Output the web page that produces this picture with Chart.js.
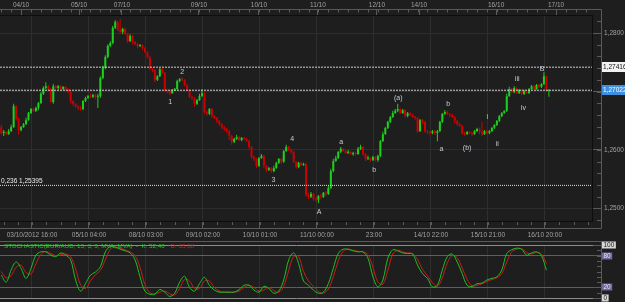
<!DOCTYPE html>
<html>
<head>
<meta charset="utf-8">
<title>EUR/AUD H1 - Elliott count</title>
<script src="https://cdn.jsdelivr.net/npm/chart.js@4/dist/chart.umd.min.js"></script>
<style>
  html, body { margin: 0; padding: 0; background: #1e1e1e; }
  #wrap { position: relative; width: 625px; height: 302px; overflow: hidden; }
  #priceChart { position: absolute; left: 0; top: 0; }
  #stochChart { position: absolute; left: 0; top: 241px; }
</style>
</head>
<body>
<div id="wrap">
  <canvas id="priceChart" width="625" height="241"></canvas>
  <canvas id="stochChart" width="625" height="61"></canvas>
</div>
<script>
// EUR/AUD hourly candles, bar 0 = first visible bar
const firstOpen = 1.2639;
const closes = [
  1.2629, 1.2631, 1.2627, 1.2632, 1.2639, 1.2675, 1.2653, 1.2634, 1.2639, 1.2644,
  1.2651, 1.2663, 1.2670, 1.2667, 1.2672, 1.2680, 1.2696, 1.2706, 1.2709, 1.2703,
  1.2682, 1.2709, 1.2706, 1.2709, 1.2704, 1.2708, 1.2704, 1.2699, 1.2684, 1.2679,
  1.2675, 1.2672, 1.2670, 1.2684, 1.2689, 1.2692, 1.2691, 1.2694, 1.2691, 1.2692,
  1.2723, 1.2740, 1.2759, 1.2778, 1.2783, 1.2809, 1.2819, 1.2805, 1.2802, 1.2807,
  1.2798, 1.2786, 1.2795, 1.2785, 1.2781, 1.2778, 1.2779, 1.2774, 1.2767, 1.2759,
  1.2738, 1.2737, 1.2720, 1.2726, 1.2738, 1.2732, 1.2703, 1.2701, 1.2697, 1.2703,
  1.2704, 1.2718, 1.2721, 1.2720, 1.2711, 1.2703, 1.2691, 1.2689, 1.2679, 1.2685,
  1.2692, 1.2697, 1.2665, 1.2662, 1.2670, 1.2658, 1.2655, 1.2650, 1.2644, 1.2639,
  1.2636, 1.2632, 1.2624, 1.2614, 1.2619, 1.2622, 1.2617, 1.2621, 1.2619, 1.2615,
  1.2605, 1.2588, 1.2585, 1.2573, 1.2586, 1.2590, 1.2573, 1.2566, 1.2569, 1.2564,
  1.2569, 1.2578, 1.2585, 1.2580, 1.2598, 1.2605, 1.2600, 1.2597, 1.2580, 1.2571,
  1.2578, 1.2574, 1.2576, 1.2523, 1.2520, 1.2525, 1.2516, 1.2515, 1.2521, 1.2520,
  1.2527, 1.2525, 1.2535, 1.2564, 1.2581, 1.2586, 1.2597, 1.2602, 1.2598, 1.2595,
  1.2597, 1.2593, 1.2595, 1.2593, 1.2602, 1.2605, 1.2593, 1.2585, 1.2586, 1.2583,
  1.2588, 1.2583, 1.2590, 1.2615, 1.2627, 1.2638, 1.2648, 1.2656, 1.2663, 1.2667,
  1.2670, 1.2663, 1.2668, 1.2658, 1.2663, 1.2660, 1.2656, 1.2655, 1.2632, 1.2651,
  1.2648, 1.2632, 1.2631, 1.2629, 1.2632, 1.2629, 1.2632, 1.2648, 1.2662, 1.2665,
  1.2662, 1.2660, 1.2656, 1.2650, 1.2644, 1.2641, 1.2629, 1.2627, 1.2631, 1.2629,
  1.2627, 1.2632, 1.2636, 1.2631, 1.2627, 1.2632, 1.2629, 1.2632, 1.2638, 1.2643,
  1.2650, 1.2658, 1.2663, 1.2667, 1.2692, 1.2704, 1.2699, 1.2706, 1.2697, 1.2703,
  1.2696, 1.2701, 1.2697, 1.2704, 1.2709, 1.2704, 1.2711, 1.2708, 1.2713, 1.2726,
  1.2701, 1.2702
];
const highs = [
  1.2643, 1.2634, 1.2632, 1.2636, 1.2643, 1.2679, 1.2677, 1.2655, 1.2641, 1.2646,
  1.2655, 1.2665, 1.2672, 1.2672, 1.2674, 1.2682, 1.2699, 1.2709, 1.2716, 1.2711,
  1.2706, 1.2713, 1.2711, 1.2711, 1.2711, 1.2709, 1.2709, 1.2706, 1.2701, 1.2685,
  1.2680, 1.2677, 1.2675, 1.2685, 1.2691, 1.2694, 1.2696, 1.2696, 1.2696, 1.2696,
  1.2726, 1.2744, 1.2762, 1.2781, 1.2786, 1.2812, 1.2822, 1.2821, 1.2824, 1.2809,
  1.2809, 1.2800, 1.2798, 1.2797, 1.2786, 1.2783, 1.2781, 1.2781, 1.2776, 1.2769,
  1.2761, 1.2740, 1.2738, 1.2728, 1.2740, 1.2740, 1.2733, 1.2704, 1.2703, 1.2704,
  1.2706, 1.2720, 1.2723, 1.2725, 1.2721, 1.2713, 1.2704, 1.2692, 1.2691, 1.2687,
  1.2696, 1.2704, 1.2699, 1.2668, 1.2672, 1.2672, 1.2660, 1.2656, 1.2651, 1.2646,
  1.2641, 1.2638, 1.2634, 1.2626, 1.2621, 1.2626, 1.2624, 1.2622, 1.2622, 1.2621,
  1.2617, 1.2607, 1.2590, 1.2586, 1.2588, 1.2593, 1.2592, 1.2574, 1.2571, 1.2571,
  1.2573, 1.2580, 1.2586, 1.2586, 1.2600, 1.2609, 1.2607, 1.2602, 1.2598, 1.2581,
  1.2580, 1.2580, 1.2578, 1.2578, 1.2527, 1.2528, 1.2527, 1.2520, 1.2523, 1.2525,
  1.2528, 1.2530, 1.2539, 1.2568, 1.2585, 1.2590, 1.2598, 1.2605, 1.2603, 1.2600,
  1.2600, 1.2598, 1.2597, 1.2597, 1.2605, 1.2609, 1.2607, 1.2595, 1.2590, 1.2588,
  1.2590, 1.2590, 1.2592, 1.2617, 1.2631, 1.2639, 1.2650, 1.2658, 1.2667, 1.2670,
  1.2679, 1.2672, 1.2670, 1.2670, 1.2665, 1.2665, 1.2662, 1.2658, 1.2656, 1.2653,
  1.2653, 1.2650, 1.2634, 1.2632, 1.2634, 1.2634, 1.2634, 1.2650, 1.2663, 1.2668,
  1.2667, 1.2663, 1.2662, 1.2658, 1.2651, 1.2646, 1.2643, 1.2631, 1.2632, 1.2632,
  1.2631, 1.2634, 1.2638, 1.2638, 1.2648, 1.2634, 1.2634, 1.2634, 1.2639, 1.2644,
  1.2651, 1.2660, 1.2665, 1.2668, 1.2696, 1.2708, 1.2706, 1.2709, 1.2708, 1.2704,
  1.2704, 1.2703, 1.2703, 1.2706, 1.2711, 1.2711, 1.2713, 1.2713, 1.2714, 1.2733,
  1.2728, 1.2704
];
const lows = [
  1.2626, 1.2624, 1.2626, 1.2626, 1.2631, 1.2638, 1.2650, 1.2626, 1.2632, 1.2638,
  1.2643, 1.2650, 1.2662, 1.2665, 1.2665, 1.2668, 1.2679, 1.2694, 1.2704, 1.2699,
  1.2680, 1.2679, 1.2704, 1.2703, 1.2703, 1.2703, 1.2701, 1.2697, 1.2680, 1.2675,
  1.2672, 1.2668, 1.2667, 1.2668, 1.2682, 1.2687, 1.2689, 1.2689, 1.2687, 1.2672,
  1.2689, 1.2721, 1.2738, 1.2757, 1.2776, 1.2781, 1.2807, 1.2803, 1.2800, 1.2798,
  1.2797, 1.2783, 1.2785, 1.2781, 1.2779, 1.2774, 1.2776, 1.2771, 1.2766, 1.2756,
  1.2737, 1.2733, 1.2716, 1.2718, 1.2725, 1.2730, 1.2699, 1.2697, 1.2694, 1.2696,
  1.2701, 1.2703, 1.2716, 1.2718, 1.2709, 1.2701, 1.2689, 1.2685, 1.2674, 1.2677,
  1.2684, 1.2691, 1.2662, 1.2658, 1.2660, 1.2655, 1.2653, 1.2646, 1.2641, 1.2636,
  1.2632, 1.2629, 1.2617, 1.2609, 1.2612, 1.2617, 1.2615, 1.2615, 1.2617, 1.2614,
  1.2602, 1.2585, 1.2581, 1.2569, 1.2571, 1.2585, 1.2569, 1.2562, 1.2564, 1.2561,
  1.2562, 1.2568, 1.2576, 1.2576, 1.2578, 1.2597, 1.2598, 1.2593, 1.2578, 1.2568,
  1.2569, 1.2573, 1.2573, 1.2520, 1.2516, 1.2518, 1.2513, 1.2511, 1.2509, 1.2516,
  1.2518, 1.2521, 1.2523, 1.2533, 1.2562, 1.2580, 1.2585, 1.2595, 1.2597, 1.2593,
  1.2593, 1.2592, 1.2590, 1.2590, 1.2592, 1.2600, 1.2590, 1.2581, 1.2583, 1.2580,
  1.2581, 1.2580, 1.2580, 1.2588, 1.2614, 1.2626, 1.2636, 1.2646, 1.2655, 1.2662,
  1.2665, 1.2662, 1.2662, 1.2655, 1.2656, 1.2658, 1.2655, 1.2651, 1.2629, 1.2631,
  1.2644, 1.2629, 1.2627, 1.2626, 1.2627, 1.2626, 1.2615, 1.2631, 1.2646, 1.2660,
  1.2660, 1.2656, 1.2655, 1.2646, 1.2641, 1.2639, 1.2626, 1.2624, 1.2626, 1.2627,
  1.2624, 1.2626, 1.2631, 1.2627, 1.2624, 1.2626, 1.2627, 1.2627, 1.2631, 1.2636,
  1.2641, 1.2648, 1.2656, 1.2662, 1.2665, 1.2691, 1.2697, 1.2697, 1.2696, 1.2696,
  1.2694, 1.2694, 1.2696, 1.2696, 1.2703, 1.2703, 1.2703, 1.2706, 1.2706, 1.2711,
  1.2699, 1.2691
];

// stochastic(13,3,3), one reading every 2 bars
const stochStep = 2;
const stochK = [
  43, 30, 53, 68, 56, 37, 56, 81, 87, 87, 81, 78, 85, 81, 72, 34, 13, 27, 43, 49,
  59, 87, 97, 96, 92, 89, 85, 72, 40, 13, 7, 7, 16, 11, 3, 9, 30, 41, 20, 13,
  27, 39, 24, 15, 11, 11, 11, 11, 16, 24, 24, 15, 11, 22, 18, 9, 13, 34, 72, 85,
  65, 32, 24, 15, 9, 11, 27, 56, 84, 92, 92, 89, 87, 87, 75, 40, 21, 34, 75, 91,
  89, 85, 84, 83, 62, 46, 37, 21, 24, 53, 78, 83, 68, 46, 24, 22, 27, 28, 34, 37,
  40, 53, 84, 91, 94, 92, 81, 85, 87, 80, 52.4
];
const stochD = [
  50, 38, 42, 58, 62, 48, 45, 65, 82, 88, 84, 80, 82, 83, 78, 55, 25, 18, 32, 44,
  52, 72, 92, 96, 94, 91, 87, 80, 58, 25, 10, 8, 11, 13, 8, 6, 18, 35, 32, 18,
  18, 32, 32, 20, 13, 11, 11, 11, 13, 20, 24, 20, 13, 15, 20, 14, 11, 22, 52, 78,
  78, 50, 32, 22, 12, 9, 17, 40, 70, 88, 92, 90, 88, 87, 82, 58, 30, 26, 52, 83,
  90, 87, 85, 84, 73, 54, 42, 29, 22, 38, 66, 80, 76, 57, 35, 23, 24, 27, 31, 35,
  38, 46, 68, 87, 92, 93, 86, 83, 86, 83, 65.38
];
const stochLevels = [0, 20, 80, 100];

// horizontal levels: 1,27416 high, 1,27022 last price, 0.236 retracement
const levels = [1.27416, 1.27022, 1.25395];
const priceTicks = [1.25, 1.26, 1.27, 1.28];

// time axis (positions in bar units)
const bottomTickPos = [12.4, 35.4, 58.4, 81.4, 104.4, 127.4, 150.4, 173.4, 196.4, 219.4];
const bottomTickLabels = ['03/10/2012 16:00', '05/10 04:00', '08/10 03:00', '09/10 02:00', '10/10 01:00',
  '11/10 00:00', '23:00', '14/10 22:00', '15/10 21:00', '16/10 20:00'];
const topTickPos = [8.0, 31.4, 48.7, 79.8, 104.0, 127.8, 151.6, 168.6, 199.7, 223.9];
const topTickLabels = ['04/10', '05/10', '07/10', '09/10', '10/10', '11/10', '12/10', '14/10', '16/10', '17/10'];

// Elliott wave count
const waveLabels = ['1', '2', '3', '4', 'A', 'a', 'b', '(a)', 'a', 'b', '(b)', 'i', 'ii', 'iii', 'iv', 'B'];
const waveBars = [68.2, 73, 109.8, 117.4, 128.3, 137.2, 150.5, 160.2, 177.6, 180.4, 188, 196.1, 200.2, 208.2, 210.7, 218.3];
const wavePrices = [1.2682, 1.2733, 1.2549, 1.2619, 1.2494, 1.2614, 1.2566, 1.2689, 1.2602, 1.2679, 1.2603, 1.2656, 1.2610, 1.2721, 1.2672, 1.2738];

const X_MIN = -0.5, X_MAX = 238.8;
const UP = '#1ecf1e', DOWN = '#cc0000';
const GRID = '#2e2e2e', FRAME = '#5a5a5a', TEXT = '#a2a2a2';

Chart.defaults.font.family = '"Liberation Sans", Arial, sans-serif';
Chart.defaults.font.size = 6.5;
Chart.defaults.color = TEXT;

const opens = closes.map((c, i) => (i === 0 ? firstOpen : closes[i - 1]));
const candleColors = closes.map((c, i) => (c >= opens[i] ? UP : DOWN));
const fmt = (v, d) => v.toFixed(d).replace('.', ',');

function minorTicks(ctx, pts) {
    ctx.beginPath();
    pts.forEach(p => { ctx.moveTo(p[0], p[1]); ctx.lineTo(p[2], p[3]); });
    ctx.stroke();
}

const priceDecor = {
    id: 'priceDecor',
    afterDraw(chart) {
        const { ctx, chartArea: a } = chart;
        const xs = chart.scales.x, ys = chart.scales.y;
        ctx.save();
        ctx.lineWidth = 1;

        // outer axis frame + plot border
        ctx.strokeStyle = FRAME;
        ctx.beginPath();
        ctx.moveTo(0, 9.5); ctx.lineTo(601.5, 9.5); ctx.lineTo(601.5, 228.5); ctx.lineTo(0, 228.5);
        ctx.stroke();
        ctx.strokeStyle = '#0d0d0d';
        ctx.beginPath();
        ctx.moveTo(0, a.top + 0.5); ctx.lineTo(a.right - 0.5, a.top + 0.5);
        ctx.lineTo(a.right - 0.5, a.bottom - 0.5); ctx.lineTo(0, a.bottom - 0.5);
        ctx.stroke();

        // minor ticks on the three axes
        ctx.strokeStyle = FRAME;
        const top = [], bottom = [], right = [];
        for (let v = 0; v < X_MAX; v += 4) {
            const px = Math.round(xs.getPixelForValue(v)) + 0.5;
            top.push([px, 10, px, 12.5]);
        }
        for (let v = 1; v < X_MAX; v += 5.75) {
            const px = Math.round(xs.getPixelForValue(v)) + 0.5;
            bottom.push([px, a.bottom, px, a.bottom + 3]);
        }
        for (let v = 1.248; v < 1.2831; v += 0.002) {
            const py = Math.round(ys.getPixelForValue(v)) + 0.5;
            right.push([597, py, 601, py]);
        }
        minorTicks(ctx, top.concat(bottom, right));

        // Elliott wave labels
        ctx.fillStyle = '#c5ccd8';
        ctx.font = '7px "Liberation Sans", Arial, sans-serif';
        ctx.textAlign = 'center';
        ctx.textBaseline = 'middle';
        waveLabels.forEach((t, k) => {
            ctx.fillText(t, xs.getPixelForValue(waveBars[k]), ys.getPixelForValue(wavePrices[k]));
        });

        // level tags
        ctx.font = '6.5px "Liberation Sans", Arial, sans-serif';
        ctx.textAlign = 'left';
        const hiY = Math.round(ys.getPixelForValue(levels[0]));
        ctx.fillStyle = '#f2f2f2';
        ctx.fillRect(602, hiY - 5, 23, 10);
        ctx.fillStyle = '#111111';
        ctx.fillText(fmt(levels[0], 5), 603, hiY);

        const lastY = Math.round(ys.getPixelForValue(levels[1]));
        ctx.fillStyle = '#3f8fe0';
        ctx.fillRect(602, lastY - 5, 23, 10);
        ctx.fillStyle = '#ffffff';
        ctx.fillText(fmt(levels[1], 5), 603, lastY);

        const fibY = ys.getPixelForValue(levels[2]);
        ctx.fillStyle = '#ececec';
        ctx.textBaseline = 'bottom';
        ctx.fillText('0,236 ' + fmt(levels[2], 5), 1, fibY - 1);
        ctx.restore();
    }
};

new Chart(document.getElementById('priceChart'), {
    type: 'bar',
    data: {
        datasets: [
            {
                data: closes.map((c, i) => ({ x: i, y: [lows[i], highs[i]] })),
                backgroundColor: candleColors,
                barThickness: 1,
                inflateAmount: 0,
                grouped: false,
                order: 3
            },
            {
                data: closes.map((c, i) => ({ x: i, y: [opens[i], c] })),
                backgroundColor: candleColors,
                barThickness: 2,
                inflateAmount: 0,
                minBarLength: 1,
                grouped: false,
                order: 2
            },
            ...levels.map((v, k) => ({
                type: 'line',
                data: [{ x: X_MIN, y: v }, { x: X_MAX, y: v }],
                borderColor: k === 2 ? '#e6e0c4' : '#cfcfcf',
                borderWidth: 1,
                borderDash: k === 2 ? [1, 1] : [2, 1],
                pointRadius: 0,
                order: 1
            }))
        ]
    },
    options: {
        responsive: false,
        animation: false,
        devicePixelRatio: 1,
        layout: { padding: 0 },
        plugins: { legend: { display: false }, tooltip: { enabled: false } },
        scales: {
            x: {
                type: 'linear', position: 'bottom', min: X_MIN, max: X_MAX, offset: false,
                afterBuildTicks: s => { s.ticks = bottomTickPos.map(v => ({ value: v })); },
                afterFit: s => { s.height = 19; },
                ticks: { callback: (v, i) => bottomTickLabels[i], autoSkip: false, maxRotation: 0, padding: 3 },
                grid: { color: GRID, tickColor: FRAME, tickLength: 6, offset: false },
                border: { display: false }
            },
            xTop: {
                type: 'linear', position: 'top', min: X_MIN, max: X_MAX, offset: false,
                afterBuildTicks: s => { s.ticks = topTickPos.map(v => ({ value: v })); },
                afterFit: s => { s.height = 15; },
                ticks: { callback: (v, i) => topTickLabels[i], autoSkip: false, maxRotation: 0, padding: 0 },
                grid: { drawOnChartArea: false, tickColor: FRAME, tickLength: 6, offset: false },
                border: { display: false }
            },
            y: {
                type: 'linear', position: 'right', min: 1.24769, max: 1.28308,
                afterBuildTicks: s => { s.ticks = priceTicks.map(v => ({ value: v })); },
                afterFit: s => { s.width = 32; },
                ticks: { callback: v => fmt(v, 4), padding: 3 },
                grid: { color: GRID, tickColor: FRAME, tickLength: 8 },
                border: { display: false }
            }
        }
    },
    plugins: [priceDecor]
});

const stochDecor = {
    id: 'stochDecor',
    afterDraw(chart) {
        const { ctx } = chart;
        const ys = chart.scales.y;
        ctx.save();
        ctx.lineWidth = 1;
        ctx.strokeStyle = FRAME;
        ctx.beginPath();
        ctx.moveTo(0, 0.5); ctx.lineTo(601.5, 0.5);
        ctx.moveTo(601.5, 0); ctx.lineTo(601.5, 61);
        ctx.stroke();
        const ticks = [];
        for (let v = 0; v <= 100; v += 10) {
            const py = Math.round(ys.getPixelForValue(v)) + 0.5;
            ticks.push([597, py, 601, py]);
        }
        minorTicks(ctx, ticks);

        // level boxes on the right
        ctx.font = '6.5px "Liberation Sans", Arial, sans-serif';
        ctx.textAlign = 'center';
        ctx.textBaseline = 'middle';
        stochLevels.forEach(v => {
            const py = Math.round(ys.getPixelForValue(v));
            const label = String(v);
            const w = ctx.measureText(label).width + 3;
            const outer = v === 0 || v === 100;
            ctx.fillStyle = outer ? '#d6d6d6' : '#6b6b9e';
            ctx.fillRect(602, py - 3.5, w, 7);
            ctx.fillStyle = outer ? '#1a1a1a' : '#e4e4f4';
            ctx.fillText(label, 602 + w / 2, py);
        });

        // indicator caption
        ctx.font = '6.2px "Liberation Sans", Arial, sans-serif';
        ctx.textAlign = 'left';
        const kText = 'STOCHASTIC(EUR/AUD, 13, 3, 3, MVA, MVA)  -  K: ' + fmt(stochK[stochK.length - 1], 2);
        const dText = 'D: ' + fmt(stochD[stochD.length - 1], 2);
        ctx.fillStyle = '#22c822';
        ctx.fillText(kText, 4, 5.5);
        ctx.fillStyle = '#d22020';
        ctx.fillText(dText, 4 + ctx.measureText(kText).width + 6, 5.5);
        ctx.restore();
    }
};

new Chart(document.getElementById('stochChart'), {
    type: 'line',
    data: {
        datasets: [
            {
                data: stochK.map((v, j) => ({ x: j * stochStep, y: v })),
                borderColor: '#20c020',
                borderWidth: 1,
                pointRadius: 0,
                tension: 0.35,
                order: 1
            },
            {
                data: stochD.map((v, j) => ({ x: j * stochStep, y: v })),
                borderColor: '#c81e1e',
                borderWidth: 1,
                pointRadius: 0,
                tension: 0.35,
                order: 2
            }
        ]
    },
    options: {
        responsive: false,
        animation: false,
        devicePixelRatio: 1,
        layout: { padding: { top: 4, bottom: 4, left: 0, right: 0 } },
        plugins: { legend: { display: false }, tooltip: { enabled: false } },
        scales: {
            x: {
                type: 'linear', min: X_MIN, max: X_MAX, offset: false,
                afterBuildTicks: s => { s.ticks = bottomTickPos.map(v => ({ value: v })); },
                afterFit: s => { s.height = 0; },
                ticks: { display: false },
                grid: { color: GRID, drawTicks: false },
                border: { display: false }
            },
            y: {
                type: 'linear', position: 'right', min: 0, max: 100,
                afterBuildTicks: s => { s.ticks = stochLevels.map(v => ({ value: v })); },
                afterFit: s => { s.width = 32; },
                ticks: { display: false },
                grid: {
                    color: c => (c.tick && (c.tick.value === 0 || c.tick.value === 100)) ? '#8c8c8c' : '#5c5c80',
                    tickColor: FRAME,
                    tickLength: 8
                },
                border: { display: false }
            }
        }
    },
    plugins: [stochDecor]
});
</script>
</body>
</html>
